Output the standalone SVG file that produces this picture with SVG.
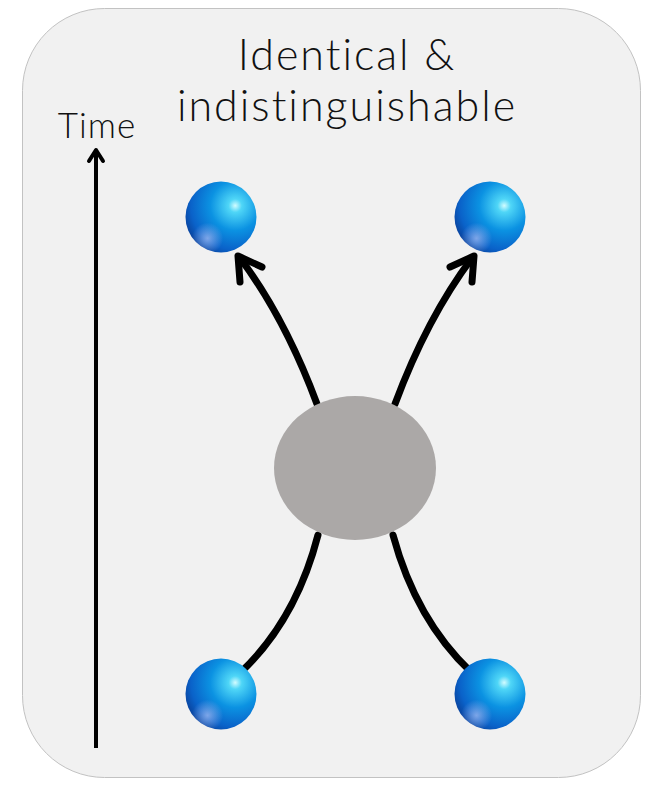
<svg xmlns="http://www.w3.org/2000/svg" width="654" height="788" viewBox="0 0 654 788">
  <style>
    .label { font-family: Lato, "Open Sans", "Liberation Sans", sans-serif; font-weight: 300; fill: #111; text-anchor: middle; }
    .flow { fill: none; stroke: #000; stroke-width: 7; stroke-linecap: round; }
    .head { fill: none; stroke: #000; stroke-width: 7; stroke-linecap: round; stroke-linejoin: round; }
  </style>
  <defs>
    <radialGradient id="sphereBody" cx="0.7" cy="0.34" r="0.78" fx="0.7" fy="0.34">
      <stop offset="0" stop-color="#d2fcff"/>
      <stop offset="0.12" stop-color="#4fd6f7"/>
      <stop offset="0.45" stop-color="#0b92e2"/>
      <stop offset="0.8" stop-color="#0a62c9"/>
      <stop offset="1" stop-color="#0a3f98"/>
    </radialGradient>
    <radialGradient id="sphereGlow" cx="0.31" cy="0.8" r="0.22">
      <stop offset="0" stop-color="#a3bbf2" stop-opacity="0.75"/>
      <stop offset="1" stop-color="#a3bbf2" stop-opacity="0"/>
    </radialGradient>
    <g id="sphere">
      <circle r="35.5" fill="url(#sphereBody)"/>
      <circle r="35.5" fill="url(#sphereGlow)"/>
    </g>
  </defs>

  <!-- panel -->
  <rect x="22.5" y="8.5" width="618" height="769" rx="82" ry="82" fill="#f1f1f1" stroke="#c2c2c2" stroke-width="1"/>

  <!-- title -->
  <g id="title">
    <text class="label" x="347" y="70" font-size="43" letter-spacing="2">Identical &amp;</text>
    <text class="label" x="347" y="121" font-size="43" letter-spacing="2">indistinguishable</text>
  </g>

  <!-- time axis -->
  <g id="time-axis">
    <text class="label" x="97" y="138" font-size="35" letter-spacing="1">Time</text>
    <line x1="96" y1="748" x2="96" y2="152" stroke="#000" stroke-width="4"/>
    <polyline points="89,161 96,150 103,161" fill="none" stroke="#000" stroke-width="4" stroke-linecap="round" stroke-linejoin="round"/>
  </g>

  <!-- connectors -->
  <g id="connectors">
    <path class="flow" d="M317,404 Q285,318 240,258"/>
    <polyline class="head" points="240,282 238,256 262,267"/>
    <path class="flow" d="M395,404 Q427,318 472,258"/>
    <polyline class="head" points="472,282 474,256 450,267"/>
    <path class="flow" d="M318,535 Q296,620 241,672"/>
    <path class="flow" d="M393,535 Q416,620 471,672"/>
  </g>

  <!-- interaction region -->
  <g id="interaction">
    <ellipse cx="355" cy="468" rx="81" ry="72" fill="#aba8a7"/>
  </g>

  <!-- particles -->
  <g id="particle-out-left"><use href="#sphere" x="221" y="217"/></g>
  <g id="particle-out-right"><use href="#sphere" x="490" y="217"/></g>
  <g id="particle-in-left"><use href="#sphere" x="221" y="694"/></g>
  <g id="particle-in-right"><use href="#sphere" x="490" y="694"/></g>
</svg>
